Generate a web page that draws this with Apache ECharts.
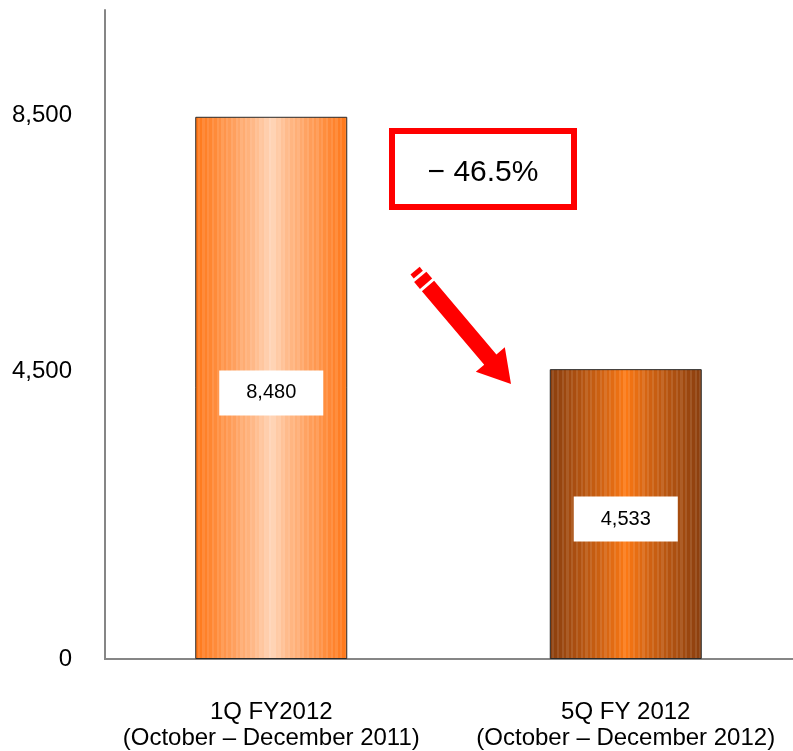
<html>

<head>
    <script src="https://cdn.jsdelivr.net/npm/echarts@6.0.0/dist/echarts.min.js"></script>
    <style>
        body {
            margin: 0
        }
        #chart {
            width: 793px;
            height: 751px;
        }
    </style>
</head>

<body>
    <div id="chart"></div>

    <script>
        const categories = ['1Q FY2012\n(October – December 2011)', '5Q FY 2012\n(October – December 2012)'];
        const values = [8480, 4533];
        const tickValues = [0, 4500, 8500];
        const changeText = '− 46.5%';

        const FONT = 'Liberation Sans, Arial, sans-serif';

        const mix = (a, b, t) => a.map((v, i) => Math.round(v + (b[i] - v) * t));

        // vertical stripe look: many hard-edged stops in a horizontal gradient
        const stripes = (edge, center, n) => {
            const stops = [];
            for (let i = 0; i < n; i++) {
                const x = (i + 0.5) / n;
                const t = Math.pow(Math.abs(x - 0.5) * 2, 0.8);
                let c = mix(center, edge, t);
                if (i % 2) c = mix(c, [255, 255, 255], 0.1);
                const col = `rgb(${c[0]},${c[1]},${c[2]})`;
                stops.push({ offset: i / n, color: col });
                stops.push({ offset: (i + 1) / n, color: col });
            }
            return { type: 'linear', x: 0, y: 0, x2: 1, y2: 0, colorStops: stops };
        };

        const fills = [
            stripes([255, 118, 22], [255, 214, 186], 64),
            stripes([138, 62, 14], [255, 122, 20], 64)
        ];

        const chart = echarts.init(document.getElementById('chart'));

        // arrow polygon pieces
        const S = [428, 286], T = [511, 384];
        const len = Math.hypot(T[0] - S[0], T[1] - S[1]);
        const u = [(T[0] - S[0]) / len, (T[1] - S[1]) / len];
        const n = [-u[1], u[0]];
        const pt = (p, a, b) => [p[0] + u[0] * a + n[0] * b, p[1] + u[1] * a + n[1] * b];
        const B = pt(T, -32, 0);
        const arrow = [pt(S, 0, 8), pt(B, 0, 8), pt(B, 0, 19), T, pt(B, 0, -19), pt(B, 0, -8), pt(S, 0, -8)];
        const dash1 = [pt(S, -3, 8), pt(S, -3, -8), pt(S, -12, -8), pt(S, -12, 8)];
        const dash2 = [pt(S, -15, 6), pt(S, -15, -6), pt(S, -20, -6), pt(S, -20, 6)];

        chart.setOption({
            animation: false,
            grid: { left: 94, width: 709, top: 10, bottom: 92, outerBoundsMode: 'none', containLabel: false },
            xAxis: {
                type: 'category',
                data: categories,
                axisLine: { lineStyle: { color: '#868686', width: 2 } },
                axisTick: { show: false },
                axisLabel: {
                    color: '#000',
                    fontFamily: FONT,
                    fontSize: 24,
                    lineHeight: 26,
                    margin: 40,
                    interval: 0
                }
            },
            yAxis: {
                type: 'value',
                min: 0,
                max: 10150,
                offset: -11,
                axisLine: { show: true, lineStyle: { color: '#868686', width: 2 } },
                axisTick: { show: false },
                splitLine: { show: false },
                axisLabel: {
                    customValues: tickValues,
                    formatter: v => v.toLocaleString('en-US'),
                    color: '#000',
                    fontFamily: FONT,
                    fontSize: 24,
                    margin: 33,
                    padding: [0, 0, 8, 0]
                }
            },
            series: [{
                type: 'bar',
                barWidth: 152,
                data: values.map((v, i) => ({
                    value: v,
                    itemStyle: { color: fills[i] }
                })),
                itemStyle: { borderColor: '#2a2a2a', borderWidth: 1 },
                label: {
                    show: true,
                    position: 'inside',
                    offset: [0, 5],
                    formatter: p => p.value.toLocaleString('en-US'),
                    color: '#000',
                    fontFamily: FONT,
                    fontSize: 20,
                    lineHeight: 21,
                    backgroundColor: '#fff',
                    padding: [12, 27]
                }
            }],
            graphic: [
                // hide the bit of x axis line left of the y axis
                {
                    type: 'rect',
                    z: 100,
                    shape: { x: 88, y: 654, width: 16, height: 10 },
                    style: { fill: '#fff' }
                },
                {
                    type: 'rect',
                    shape: { x: 392, y: 131, width: 182, height: 76 },
                    style: { fill: '#fff', stroke: '#ff0000', lineWidth: 6 }
                },
                {
                    type: 'text',
                    x: 483, y: 173,
                    style: {
                        text: changeText,
                        fill: '#000',
                        font: '30px ' + FONT,
                        align: 'center',
                        verticalAlign: 'middle'
                    }
                },
                { type: 'polygon', shape: { points: arrow }, style: { fill: '#ff0000' } },
                { type: 'polygon', shape: { points: dash1 }, style: { fill: '#ff0000' } },
                { type: 'polygon', shape: { points: dash2 }, style: { fill: '#ff0000' } }
            ]
        });
    </script>
</body>

</html>
